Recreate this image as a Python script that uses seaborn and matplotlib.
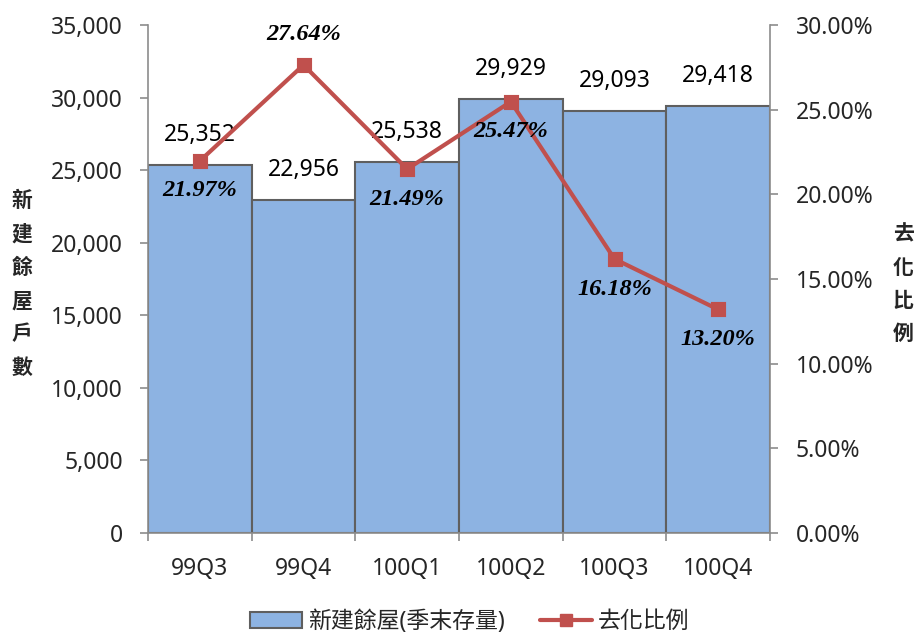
import matplotlib
matplotlib.use("Agg")
import matplotlib.pyplot as plt
import seaborn as sns
import numpy as np
import pandas as pd
from matplotlib.ticker import FuncFormatter
from matplotlib.lines import Line2D
from matplotlib.patches import Patch

quarters = ["99Q3", "99Q4", "100Q1", "100Q2", "100Q3", "100Q4"]
stock = [25352, 22956, 25538, 29929, 29093, 29418]
absorption = [0.2197, 0.2764, 0.2149, 0.2547, 0.1618, 0.1320]
# label placement for the rate labels: above (+1) or below (-1) the marker
rate_label_side = [-1, 1, -1, -1, -1, -1]

bar_name = "新建餘屋(季末存量)"
line_name = "去化比例"

sns.set_theme(style="white")
plt.rcParams["font.family"] = ["Noto Sans", "Noto Sans CJK TC", "DejaVu Sans"]

BAR_FILL = "#8DB3E2"
BAR_EDGE = "#5F5F5F"
LINE_COL = "#C0504D"
AXIS_COL = "#8C8C8C"
FS = 16.5

fig = plt.figure(figsize=(9.17, 6.34), dpi=100)
ax = fig.add_axes([0.1614, 0.1593, 0.6783, 0.8013])

df = pd.DataFrame({"quarter": quarters, "stock": stock, "rate": absorption})

sns.barplot(data=df, x="quarter", y="stock", ax=ax, width=1.0,
            color=BAR_FILL, edgecolor=BAR_EDGE, linewidth=1.5, saturation=1)

ax.set_ylim(0, 35000)
ax.set_yticks(np.arange(0, 35001, 5000))
ax.yaxis.set_major_formatter(FuncFormatter(lambda v, p: f"{int(v):,}"))
ax.set_xlim(-0.5, 5.5)
ax.set_xlabel("")
ax.set_ylabel("")

# category boundaries carry the tick marks, centres carry the labels
ax.set_xticks(np.arange(-0.5, 6, 1.0))
ax.set_xticklabels([""] * 7)
ax.set_xticks(np.arange(6), minor=True)
ax.set_xticklabels(quarters, minor=True)
ax.tick_params(axis="x", which="major", length=6, width=1.2, color=AXIS_COL, direction="out", bottom=True)
ax.tick_params(axis="x", which="minor", length=0, pad=17, labelsize=FS)
ax.tick_params(axis="y", length=6, width=1.2, color=AXIS_COL, direction="out", left=True, labelsize=FS, pad=12)

for side in ["top", "right"]:
    ax.spines[side].set_visible(False)
for side in ["left", "bottom"]:
    ax.spines[side].set_color(AXIS_COL)
    ax.spines[side].set_linewidth(1.2)

for i, v in enumerate(stock):
    ax.annotate(f"{v:,}", xy=(i, v), xytext=(0, 30), textcoords="offset pixels",
                ha="center", va="center", fontsize=FS, color="black")

ax2 = ax.twinx()
sns.pointplot(data=df, x="quarter", y="rate", ax=ax2, color=LINE_COL,
              markers="s", markersize=8.5, linewidth=3)
ax2.set_ylim(0, 0.30)
ax2.set_xlim(-0.5, 5.5)
ax2.set_yticks(np.arange(0, 0.3001, 0.05))
ax2.yaxis.set_major_formatter(FuncFormatter(lambda v, p: f"{v*100:.2f}%"))
ax2.set_ylabel("")
ax2.set_xlabel("")
ax2.tick_params(axis="y", length=6, width=1.2, color=AXIS_COL, direction="out", right=True, labelsize=FS, pad=12.5)
for side in ["top", "left", "bottom"]:
    ax2.spines[side].set_visible(False)
ax2.spines["right"].set_color(AXIS_COL)
ax2.spines["right"].set_linewidth(1.2)

for i, (r, s) in enumerate(zip(absorption, rate_label_side)):
    ax2.annotate(f"{r*100:.2f}%", xy=(i, r), xytext=(0, 30 * s), textcoords="offset pixels",
                 ha="center", va="center", fontsize=17.5, fontweight="bold", fontstyle="italic",
                 family=["Liberation Serif", "DejaVu Serif"], color="black")

# stacked vertical axis titles
fig.text(22 / 917, 1 - 284 / 634, "\n".join("新建餘屋戶數"), ha="center", va="center",
         fontsize=15, fontweight="bold", linespacing=1.72, family=["Noto Sans CJK TC"])
fig.text(903 / 917, 1 - 284 / 634, "\n".join("去化比例"), ha="center", va="center",
         fontsize=15, fontweight="bold", linespacing=1.72, family=["Noto Sans CJK TC"])

handles = [Patch(facecolor=BAR_FILL, edgecolor=BAR_EDGE, linewidth=1.5, label=bar_name),
           Line2D([0], [0], color=LINE_COL, lw=3, marker="s", markersize=8.5, label=line_name)]
fig.legend(handles=handles, loc="center", bbox_to_anchor=(470 / 917, 1 - 622 / 634), ncol=2,
           frameon=False, fontsize=FS, handlelength=2.27, columnspacing=1.55, handletextpad=0.25,
           borderpad=0)

fig.savefig("out.png", dpi=100)
